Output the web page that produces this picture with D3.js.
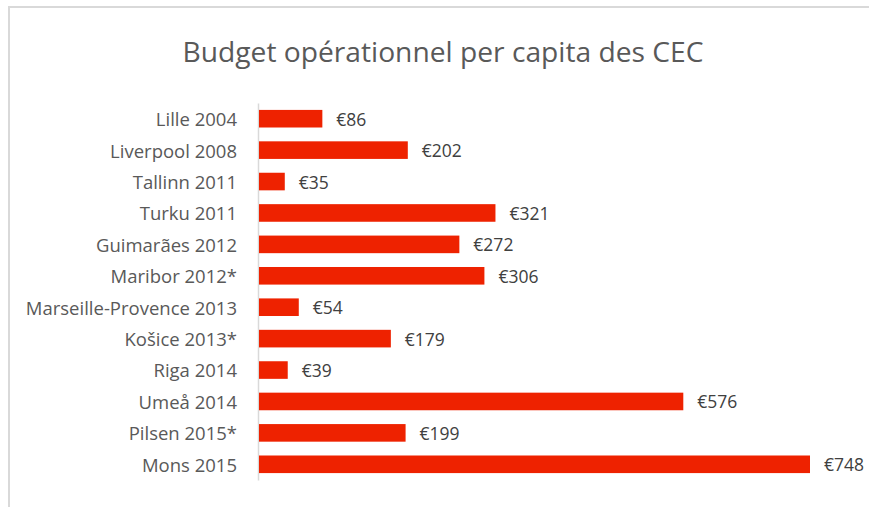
<!DOCTYPE html>
<meta charset="utf-8">
<script src="https://d3js.org/d3.v7.min.js"></script>
<style>
  body { margin: 0; background: #fff; }
</style>
<div id="my_dataviz"></div>
<script>

// data
var cities = ["Lille 2004", "Liverpool 2008", "Tallinn 2011", "Turku 2011", "Guimarães 2012",
  "Maribor 2012*", "Marseille-Provence 2013", "Košice 2013*", "Riga 2014", "Umeå 2014",
  "Pilsen 2015*", "Mons 2015"];
var budget = [86, 202, 35, 321, 272, 306, 54, 179, 39, 576, 199, 748];

var W = 869, H = 507;
var font = "'Open Sans', sans-serif";

var svg = d3.select("#my_dataviz")
  .append("svg")
    .attr("width", W)
    .attr("height", H);

// chart frame (runs off the right and bottom)
svg.append("rect")
  .attr("x", 9).attr("y", 7)
  .attr("width", W + 20).attr("height", H + 20)
  .attr("fill", "none")
  .attr("stroke", "#d9d9d9")
  .attr("stroke-width", 2);

// title
svg.append("text")
  .attr("x", 443)
  .attr("y", 62)
  .attr("text-anchor", "middle")
  .style("font-family", font)
  .style("font-size", "28.2px")
  .style("fill", "#595959")
  .text("Budget opérationnel per capita des CEC");

var x = d3.scaleLinear()
  .domain([0, 748])
  .range([259, 810]);

var y = d3.scaleBand()
  .domain(cities)
  .range([103, 480])
  .paddingInner(0.44)
  .paddingOuter(0.22);

// category axis
var yAxis = svg.append("g")
  .attr("transform", "translate(258,0)")
  .call(d3.axisLeft(y).tickSize(0).tickPadding(21));
yAxis.select(".domain").attr("stroke", "#d9d9d9").attr("stroke-width", 1.5);
yAxis.selectAll("text")
  .attr("dy", "0.4em")
  .style("font-family", font)
  .style("font-size", "18.5px")
  .style("fill", "#595959");

// bars
svg.append("g")
  .selectAll("rect")
  .data(budget)
  .enter()
  .append("rect")
    .attr("x", x(0))
    .attr("y", function (d, i) { return y(cities[i]); })
    .attr("width", function (d) { return x(d) - x(0); })
    .attr("height", y.bandwidth())
    .style("fill", "#ee2200");

// value labels
svg.append("g")
  .selectAll("text")
  .data(budget)
  .enter()
  .append("text")
    .attr("x", function (d) { return x(d) + 14; })
    .attr("y", function (d, i) { return y(cities[i]) + y.bandwidth() / 2; })
    .attr("dy", "0.4em")
    .style("font-family", font)
    .style("font-size", "17.5px")
    .style("fill", "#404040")
    .text(function (d) { return "€" + d; });

</script>
